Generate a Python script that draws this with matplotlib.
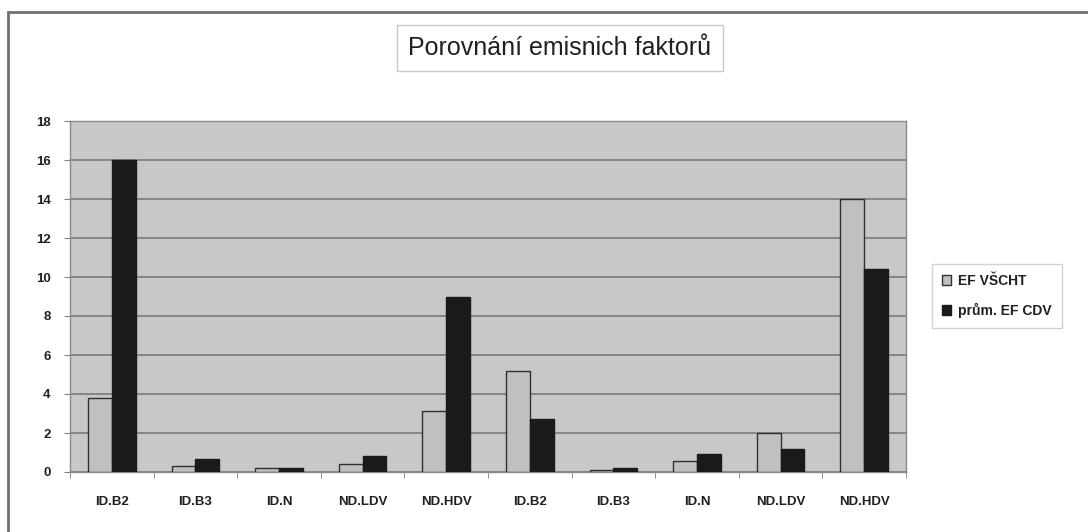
import matplotlib
matplotlib.use("Agg")
import matplotlib.pyplot as plt
import numpy as np
from matplotlib.patches import Rectangle

categories = ["ID.B2", "ID.B3", "ID.N", "ND.LDV", "ND.HDV",
              "ID.B2", "ID.B3", "ID.N", "ND.LDV", "ND.HDV"]
ef_vscht = [3.8, 0.3, 0.2, 0.4, 3.15, 5.2, 0.1, 0.55, 2.0, 14.0]
ef_cdv = [16.0, 0.65, 0.18, 0.82, 9.0, 2.7, 0.19, 0.94, 1.2, 10.4]
series_names = ["EF VŠCHT", "prům. EF CDV"]
yticks = list(range(0, 19, 2))

plt.rcParams['font.family'] = ['Liberation Sans', 'DejaVu Sans']

fig = plt.figure(figsize=(10.88, 5.32), dpi=100)
W, H = 1088, 532

# outer border
fig.patches.append(Rectangle((8 / W, -0.1), 1.2, (H - 12) / H + 0.1, transform=fig.transFigure,
                             fill=False, edgecolor="#707070", linewidth=2))

ax = fig.add_axes([70 / W, (H - 472) / H, (906 - 70) / W, (472 - 121) / H])
ax.set_facecolor("#c8c8c8")
x = np.arange(len(categories))
w = 0.285
ax.bar(x - w / 2, ef_vscht, w, color="#c0c0c0", edgecolor="#303030", linewidth=1.0,
       label=series_names[0], zorder=3)
ax.bar(x + w / 2, ef_cdv, w, color="#1a1a1a", edgecolor="#1a1a1a", linewidth=1.0,
       label=series_names[1], zorder=3)

ax.set_xlim(-0.5, len(categories) - 0.5)
ax.set_ylim(0, 18)
ax.set_yticks(yticks)
ax.set_yticklabels([str(t) for t in yticks], fontsize=9.5, fontweight="bold", color="#202020")
ax.set_xticks(x)
ax.set_xticklabels(categories, fontsize=9.5, fontweight="bold", color="#202020")
ax.tick_params(axis="x", length=0, pad=17)
ax.set_xticks(np.arange(-0.5, len(categories), 1), minor=True)
ax.tick_params(axis="x", which="minor", length=4, color="#808080")
ax.tick_params(axis="y", length=4, color="#808080", pad=10)
ax.grid(axis="y", color="#7a7a7a", linewidth=1.2, zorder=1)
for s in ax.spines.values():
    s.set_color("#8a8a8a")
    s.set_linewidth(1)

fig.text(560 / W, 1 - 48 / H, "Porovnání emisnich faktorů", ha="center", va="center",
         fontsize=18, color="#202020",
         bbox=dict(boxstyle="square,pad=0.45", facecolor="white", edgecolor="#c8c8c8", linewidth=1))

leg = ax.legend(loc="center left", bbox_to_anchor=(925 / W, 1 - 296 / H),
                bbox_transform=fig.transFigure, frameon=True, fancybox=False,
                prop={"size": 10, "weight": "bold"}, handlelength=0.7, handleheight=0.7,
                handletextpad=0.5, labelspacing=1.1, borderpad=0.7)
leg.get_frame().set_edgecolor("#c8c8c8")
leg.get_frame().set_linewidth(1)
for t in leg.get_texts():
    t.set_color("#202020")

fig.savefig("out.png", dpi=100, facecolor="white")
